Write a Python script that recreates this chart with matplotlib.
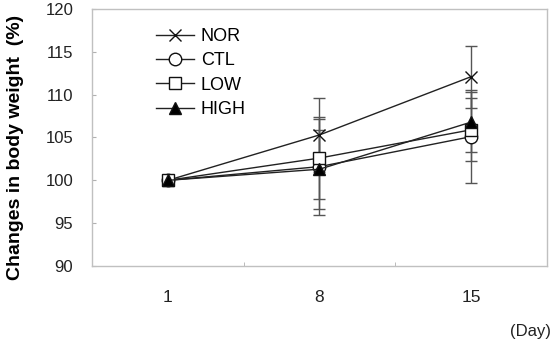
import matplotlib
matplotlib.use('Agg')
import matplotlib.pyplot as plt
import numpy as np

plt.rcParams['font.family'] = ['Liberation Sans', 'DejaVu Sans']

days = ['1', '8', '15']
groups = ['NOR', 'CTL', 'LOW', 'HIGH']
nor = [100.0, 105.3, 112.1]
ctl = [100.0, 101.6, 105.1]
low = [100.0, 102.6, 105.9]
high = [100.0, 101.3, 106.8]
nor_err = [0, 4.3, 3.6]
ctl_err = [0, 5.6, 5.4]
low_err = [0, 4.8, 3.7]
high_err = [0, 4.6, 3.5]

fig = plt.figure(figsize=(5.59, 3.39), dpi=100)
ax = fig.add_axes([0.1646, 0.2153, 0.8139, 0.7582])

x = np.arange(len(days))
styles = [
    (nor, nor_err, dict(marker='x', ms=9, mfc='none', mew=1.0)),
    (ctl, ctl_err, dict(marker='o', ms=9, mfc='white', mew=1.0)),
    (low, low_err, dict(marker='s', ms=9, mfc='white', mew=1.0)),
    (high, high_err, dict(marker='^', ms=9, mfc='black', mew=1.0)),
]
handles = []
for (vals, err, st), name in zip(styles, groups):
    eb = ax.errorbar(x, vals, yerr=err, color='#222222', lw=1.0, elinewidth=1.0,
                     capsize=4, capthick=1.0, ecolor='#555555', mec='#111111',
                     label=name, **st)
    handles.append(eb.lines[0])

ax.set_xlim(-0.5, 2.5)
ax.set_ylim(90, 120)
ax.set_yticks(np.arange(90, 121, 5))
ax.set_xticks(x)
ax.set_xticklabels(days)
ax.set_xticks([0.5, 1.5], minor=True)
ax.tick_params(axis='x', which='major', length=0, pad=17, labelsize=12.5, colors='#222222')
ax.tick_params(axis='x', which='minor', length=3, direction='in', color='#b0b0b0')
ax.tick_params(axis='y', length=3, direction='in', color='#b0b0b0', pad=13.5,
               labelsize=12, labelcolor='#222222')
for s in ax.spines.values():
    s.set_color('#c0c0c0')
    s.set_linewidth(1.0)

ax.set_ylabel('Changes in body weight  (%)', fontsize=14, fontweight='bold')
ax.yaxis.set_label_coords(-0.15, 0.46)
fig.text(510 / 559, 0.045, '(Day)', ha='left', va='top', fontsize=12, color='#222222')

leg = ax.legend(handles=handles, labels=groups, loc='upper left',
                bbox_to_anchor=(0.14, 0.925), frameon=False,
                borderpad=0, borderaxespad=0, handlelength=2.1, handletextpad=0.4,
                labelspacing=0.4, fontsize=13)

fig.savefig('out.png', dpi=100)
